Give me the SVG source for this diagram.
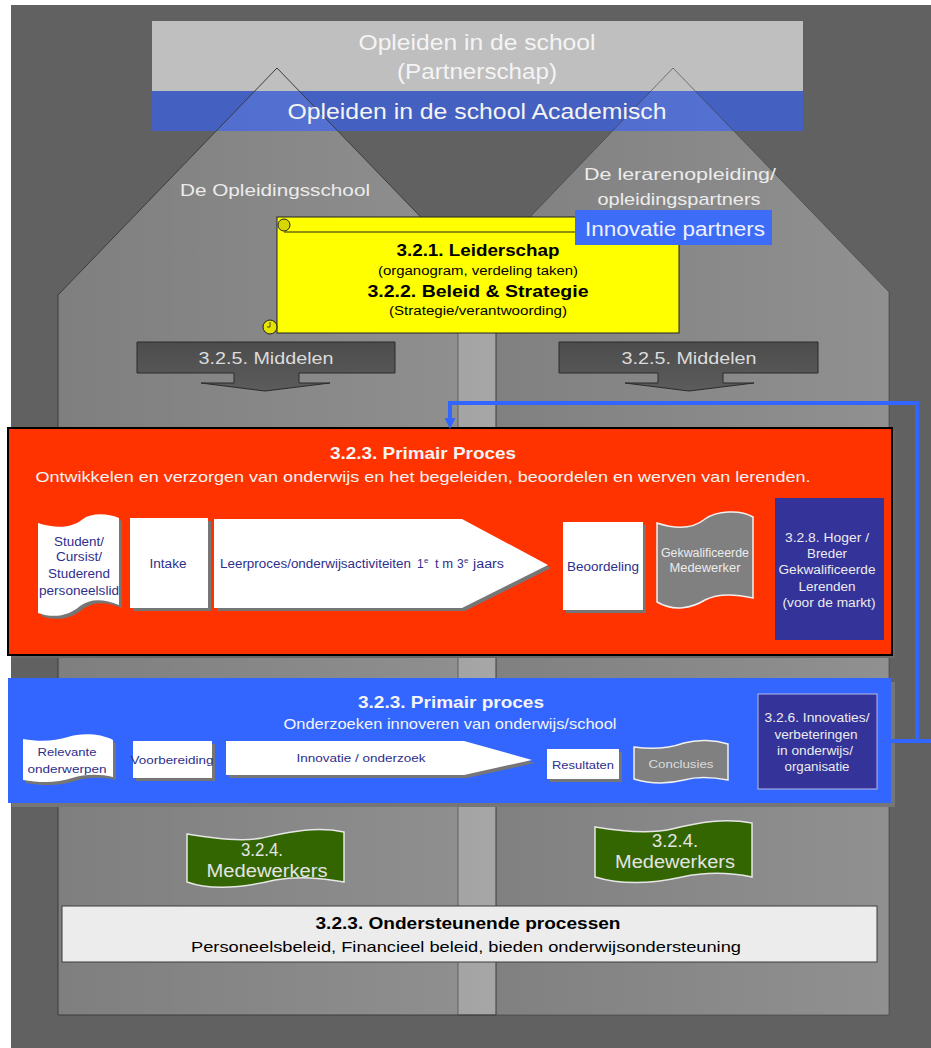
<svg xmlns="http://www.w3.org/2000/svg" width="931" height="1048" viewBox="0 0 931 1048">
<defs>
<style>
text{font-family:"Liberation Sans",Arial,sans-serif}
.c{text-anchor:middle}
.w{fill:#f4f4f4}
.lg{fill:#dcdcdc}
.db{fill:#2e2e8c}
.k{fill:#000}
.b{font-weight:bold}
.sh{fill:#767676}
.wb{fill:#ffffff}
.houseline{fill:none;stroke:#3c3c3c;stroke-width:1}
.flag{fill:#336600;stroke:#e6e6e6;stroke-width:1.5}
.gdoc{fill:#808080;stroke:#f0f0f0;stroke-width:1.5}
.conn{fill:none;stroke:#3366ff;stroke-width:4}
</style>
<linearGradient id="house" x1="0" y1="0" x2="1" y2="0">
<stop offset="0" stop-color="#ffffff" stop-opacity="0.19"/>
<stop offset="1" stop-color="#ffffff" stop-opacity="0.3"/>
</linearGradient>
<linearGradient id="mid" x1="0" y1="0" x2="0" y2="1">
<stop offset="0" stop-color="#4c4c4c"/>
<stop offset="1" stop-color="#5c5c5c"/>
</linearGradient>
<marker id="ah" markerUnits="userSpaceOnUse" markerWidth="11" markerHeight="11" refX="0" refY="5" orient="auto" viewBox="0 0 10 10">
<path d="M0,0 L10,5 L0,10 Z" fill="#3366ff"/>
</marker>
</defs>

<rect x="0" y="0" width="931" height="1048" fill="#ffffff"/>
<rect x="11" y="5" width="920" height="1043" fill="#616161"/>

<g id="houses">
<path d="M58,1015 V295 L277,68 L496,295 V1015 Z" fill="url(#house)"/>
<path d="M458,1015 V292 L673,68 L889,292 V1015 Z" fill="url(#house)"/>
</g>

<g id="banner">
<rect x="152" y="21" width="651" height="70" fill="#bfbfbf"/>
<rect x="152" y="91" width="651" height="40" fill="#315fff" fill-opacity="0.6"/>
</g>

<g id="house-outlines">
<path class="houseline" d="M58,1015 V295 L277,68 L496,295 V1015 Z"/>
<path class="houseline" d="M458,1015 V292 L673,68 L889,292 V1015 Z" stroke-opacity="0.6"/>
</g>

<g id="banner-text">
<text class="c w" x="477" y="50" font-size="22" textLength="237" lengthAdjust="spacingAndGlyphs">Opleiden in de school</text>
<text class="c w" x="477" y="79" font-size="22" textLength="160" lengthAdjust="spacingAndGlyphs">(Partnerschap)</text>
<text class="c w" x="477" y="119" font-size="22" textLength="379" lengthAdjust="spacingAndGlyphs">Opleiden in de school Academisch</text>
</g>

<g id="house-labels">
<text class="c" fill="#ececec" x="275" y="196" font-size="17" textLength="190" lengthAdjust="spacingAndGlyphs">De Opleidingsschool</text>
<text class="c" fill="#ececec" x="680" y="180" font-size="17" textLength="192" lengthAdjust="spacingAndGlyphs">De lerarenopleiding/</text>
<text class="c" fill="#ececec" x="679" y="205" font-size="17" textLength="163" lengthAdjust="spacingAndGlyphs">opleidingspartners</text>
</g>

<g id="scroll">
<rect x="277" y="217" width="402" height="116" fill="#ffff00" stroke="#222" stroke-width="1"/>
<line x1="284" y1="232" x2="679" y2="232" stroke="#222" stroke-width="1"/>
<circle cx="284" cy="225" r="6" fill="#d8d800" stroke="#222" stroke-width="1"/>
<circle cx="270" cy="327" r="7" fill="#e4e400" stroke="#222" stroke-width="1"/>
<path d="M270,322 v5 h-3" fill="none" stroke="#222" stroke-width="0.8"/>
<text class="c k b" x="478" y="256" font-size="16" textLength="163" lengthAdjust="spacingAndGlyphs">3.2.1. Leiderschap</text>
<text class="c k" x="478" y="275" font-size="12" textLength="200" lengthAdjust="spacingAndGlyphs">(organogram, verdeling taken)</text>
<text class="c k b" x="478" y="297" font-size="16" textLength="221" lengthAdjust="spacingAndGlyphs">3.2.2. Beleid &amp; Strategie</text>
<text class="c k" x="478" y="315" font-size="12" textLength="178" lengthAdjust="spacingAndGlyphs">(Strategie/verantwoording)</text>
</g>

<g id="innovatie-partners">
<rect x="575" y="210" width="197" height="35" fill="#3d6cf7"/>
<text class="c" fill="#eef0ff" x="675" y="236" font-size="20" textLength="180" lengthAdjust="spacingAndGlyphs">Innovatie partners</text>
</g>

<g id="middelen-left">
<path d="M137,342 H395 V373 H299 V383 H330 L265,391 L201,383 H234 V373 H137 Z" fill="url(#mid)" stroke="#2a2a2a" stroke-width="1"/>
<text class="c lg" x="266" y="364" font-size="17" textLength="135" lengthAdjust="spacingAndGlyphs">3.2.5. Middelen</text>
</g>
<g id="middelen-right">
<path d="M559,342 H818 V373 H723 V383 H754 L689,391 L625,383 H658 V373 H559 Z" fill="url(#mid)" stroke="#2a2a2a" stroke-width="1"/>
<text class="c lg" x="689" y="364" font-size="17" textLength="135" lengthAdjust="spacingAndGlyphs">3.2.5. Middelen</text>
</g>

<g id="primair-proces-1">
<rect x="11" y="431" width="884" height="227" fill="#6a6a6a"/>
<rect x="8" y="428" width="884" height="227" fill="#ff3300" stroke="#000" stroke-width="2"/>
<text class="c w b" x="423" y="459" font-size="17" textLength="186" lengthAdjust="spacingAndGlyphs">3.2.3. Primair Proces</text>
<text class="c w" x="423" y="482" font-size="15" textLength="775" lengthAdjust="spacingAndGlyphs">Ontwikkelen en verzorgen van onderwijs en het begeleiden, beoordelen en werven van lerenden.</text>
</g>

<g id="student">
<path class="sh" d="M41,526 C60,532 75,531 86,522 C94,516 110,516 122,521 L122,608 C107,602 94,601 83,609 C73,618 58,622 41,616 Z"/>
<path class="wb" d="M38,523 C57,529 72,528 83,519 C91,513 107,513 119,518 L119,605 C104,599 91,598 80,606 C70,615 55,619 38,613 Z"/>
<text class="c db" x="79" y="546" font-size="12" textLength="50" lengthAdjust="spacingAndGlyphs">Student/</text>
<text class="c db" x="79" y="561" font-size="12" textLength="46" lengthAdjust="spacingAndGlyphs">Cursist/</text>
<text class="c db" x="79" y="578" font-size="12" textLength="62" lengthAdjust="spacingAndGlyphs">Studerend</text>
<text class="c db" x="79" y="595" font-size="12" textLength="80" lengthAdjust="spacingAndGlyphs">personeelslid</text>
</g>

<g id="intake">
<rect class="sh" x="133" y="521" width="78" height="90"/>
<rect class="wb" x="130" y="518" width="78" height="90"/>
<text class="c db" x="168" y="568" font-size="12" textLength="37" lengthAdjust="spacingAndGlyphs">Intake</text>
</g>

<g id="leerproces">
<path class="sh" d="M217,522 H465 L551,568 L465,611 H217 Z"/>
<path class="wb" d="M214,519 H462 L548,565 L462,608 H214 Z"/>
<text class="db" x="220" y="568" font-size="12" textLength="191" lengthAdjust="spacingAndGlyphs">Leerproces/onderwijsactiviteiten</text>
<text class="db" x="417" y="568" font-size="12">1</text>
<text class="db" x="424" y="563" font-size="8">e</text>
<text class="db" x="435" y="568" font-size="12" textLength="18" lengthAdjust="spacingAndGlyphs">t m</text>
<text class="db" x="457" y="568" font-size="12">3</text>
<text class="db" x="464" y="563" font-size="8">e</text>
<text class="db" x="473" y="568" font-size="12" textLength="31" lengthAdjust="spacingAndGlyphs">jaars</text>
</g>

<g id="beoordeling">
<rect class="sh" x="566" y="525" width="80" height="88"/>
<rect class="wb" x="563" y="522" width="80" height="88"/>
<text class="c db" x="603" y="571" font-size="12" textLength="72" lengthAdjust="spacingAndGlyphs">Beoordeling</text>
</g>

<g id="gekwalificeerde">
<path class="gdoc" d="M657,523 C678,530 694,528 705,519 C716,511 740,509 753,517 L753,598 C735,594 718,593 705,600 C692,608 674,612 657,602 Z"/>
<text class="c" fill="#ececec" x="705" y="557" font-size="12" textLength="88" lengthAdjust="spacingAndGlyphs">Gekwalificeerde</text>
<text class="c" fill="#ececec" x="705" y="572" font-size="12" textLength="71" lengthAdjust="spacingAndGlyphs">Medewerker</text>
</g>

<g id="hoger-breder">
<rect x="775" y="498" width="109" height="142" fill="#333399"/>
<text class="c" fill="#ececec" x="827" y="542" font-size="12.5" textLength="84" lengthAdjust="spacingAndGlyphs">3.2.8. Hoger /</text>
<text class="c" fill="#ececec" x="827" y="558" font-size="12.5" textLength="40" lengthAdjust="spacingAndGlyphs">Breder</text>
<text class="c" fill="#ececec" x="827" y="574" font-size="12.5" textLength="97" lengthAdjust="spacingAndGlyphs">Gekwalificeerde</text>
<text class="c" fill="#ececec" x="827" y="591" font-size="12.5" textLength="57" lengthAdjust="spacingAndGlyphs">Lerenden</text>
<text class="c" fill="#ececec" x="829" y="607" font-size="12.5" textLength="93" lengthAdjust="spacingAndGlyphs">(voor de markt)</text>
</g>

<g id="primair-proces-2">
<rect x="12" y="682" width="883" height="125" fill="#767676"/>
<rect x="8" y="678" width="883" height="125" fill="#3366ff"/>
<text class="c w b" x="451" y="708" font-size="17" textLength="186" lengthAdjust="spacingAndGlyphs">3.2.3. Primair proces</text>
<text class="c w" x="450" y="729" font-size="15" textLength="333" lengthAdjust="spacingAndGlyphs">Onderzoeken innoveren van onderwijs/school</text>
</g>

<g id="relevante">
<path class="sh" d="M26,742 C43,745 58,744 71,740 C83,736 103,736 116,743 L116,780 C103,777 88,777 75,781 C61,786 43,786 26,783 Z"/>
<path class="wb" d="M23,739 C40,742 55,741 68,737 C80,733 100,733 113,740 L113,777 C100,774 85,774 72,778 C58,783 40,783 23,780 Z"/>
<text class="c db" x="67" y="756" font-size="11.5" textLength="59" lengthAdjust="spacingAndGlyphs">Relevante</text>
<text class="c db" x="67" y="773" font-size="11.5" textLength="79" lengthAdjust="spacingAndGlyphs">onderwerpen</text>
</g>

<g id="voorbereiding">
<rect class="sh" x="136" y="744" width="79" height="37"/>
<rect class="wb" x="133" y="741" width="79" height="37"/>
<text class="c db" x="172" y="764" font-size="11.5" textLength="83" lengthAdjust="spacingAndGlyphs">Voorbereiding</text>
</g>

<g id="innovatie-onderzoek">
<path class="sh" d="M229,744 H467 L535,763 L467,778 H229 Z"/>
<path class="wb" d="M226,741 H464 L532,760 L464,775 H226 Z"/>
<text class="c db" x="361" y="762" font-size="11.5" textLength="129" lengthAdjust="spacingAndGlyphs">Innovatie / onderzoek</text>
</g>

<g id="resultaten">
<rect class="sh" x="550" y="752" width="72" height="30"/>
<rect class="wb" x="547" y="749" width="72" height="30"/>
<text class="c db" x="583" y="769" font-size="11.5" textLength="62" lengthAdjust="spacingAndGlyphs">Resultaten</text>
</g>

<g id="conclusies">
<path class="gdoc" d="M634,747 C655,750 670,748 684,743 C698,739 715,740 728,744 L728,780 C712,777 698,776 684,780 C668,784 650,784 634,779 Z"/>
<text class="c lg" x="681" y="768" font-size="11.5" textLength="65" lengthAdjust="spacingAndGlyphs">Conclusies</text>
</g>

<g id="innovaties-verbeteringen">
<rect x="758" y="694" width="119" height="95" fill="#333399" stroke="#b8b8e8" stroke-width="1"/>
<text class="c" fill="#ececec" x="817" y="722" font-size="12" textLength="105" lengthAdjust="spacingAndGlyphs">3.2.6. Innovaties/</text>
<text class="c" fill="#ececec" x="816" y="739" font-size="12" textLength="83" lengthAdjust="spacingAndGlyphs">verbeteringen</text>
<text class="c" fill="#ececec" x="815" y="755" font-size="12" textLength="76" lengthAdjust="spacingAndGlyphs">in onderwijs/</text>
<text class="c" fill="#ececec" x="817" y="771" font-size="12" textLength="65" lengthAdjust="spacingAndGlyphs">organisatie</text>
</g>

<g id="medewerkers-left">
<path class="flag" d="M187,834 C215,838 240,842 262,838 C290,832 315,826 344,832 L344,882 C320,878 300,876 275,880 C250,886 215,892 187,882 Z"/>
<text class="c" fill="#e4e4e4" x="262" y="856" font-size="18" textLength="42" lengthAdjust="spacingAndGlyphs">3.2.4.</text>
<text class="c" fill="#e4e4e4" x="267" y="877" font-size="18" textLength="121" lengthAdjust="spacingAndGlyphs">Medewerkers</text>
</g>

<g id="medewerkers-right">
<path class="flag" d="M595,827 C625,832 650,834 672,829 C700,822 725,818 752,823 L752,877 C728,872 705,872 682,877 C655,883 625,886 595,877 Z"/>
<text class="c" fill="#e4e4e4" x="675" y="847" font-size="18" textLength="46" lengthAdjust="spacingAndGlyphs">3.2.4.</text>
<text class="c" fill="#e4e4e4" x="675" y="868" font-size="18" textLength="120" lengthAdjust="spacingAndGlyphs">Medewerkers</text>
</g>

<g id="ondersteunende-processen">
<rect x="62" y="906" width="815" height="56" fill="#ececec" stroke="#3c3c3c" stroke-width="1"/>
<text class="c k b" x="468" y="929" font-size="17" textLength="305" lengthAdjust="spacingAndGlyphs">3.2.3. Ondersteunende processen</text>
<text class="c k" x="466" y="952" font-size="15" textLength="550" lengthAdjust="spacingAndGlyphs">Personeelsbeleid, Financieel beleid,  bieden onderwijsondersteuning</text>
</g>

<g id="connectors">
<path class="conn" d="M891,741 H931"/>
<path class="conn" d="M917,741 V403 H450 V418" marker-end="url(#ah)"/>
</g>
</svg>
